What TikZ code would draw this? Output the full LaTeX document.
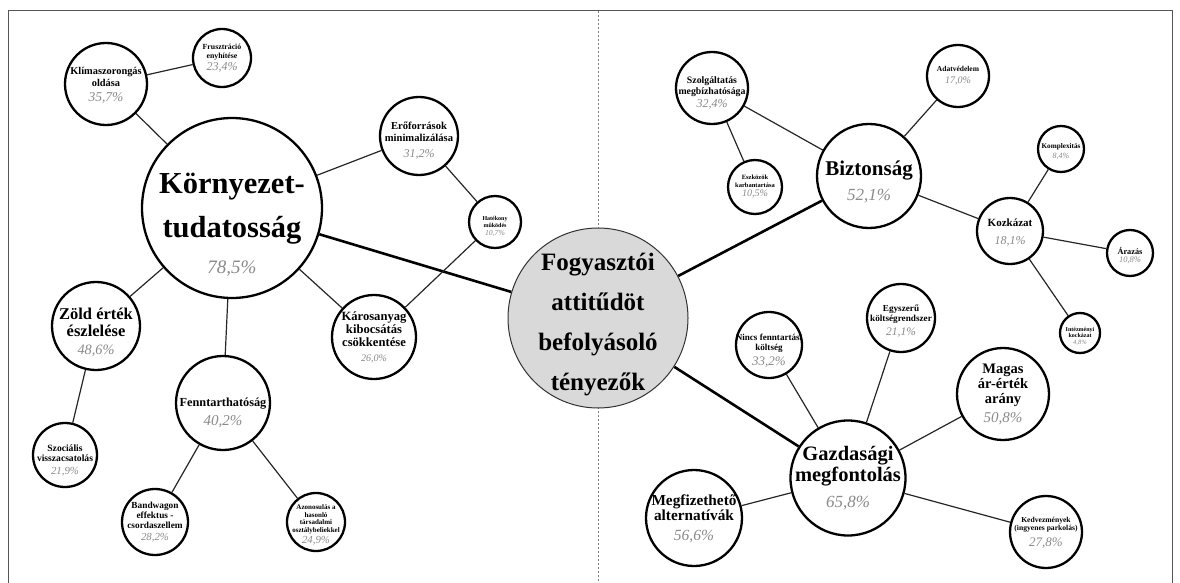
\documentclass[tikz,border=0pt]{standalone}
\usepackage{fontspec}
\setmainfont{Liberation Serif}
\usetikzlibrary{backgrounds}
\definecolor{pctgray}{HTML}{8A8A8A}
\definecolor{cenfill}{HTML}{D9D9D9}
\definecolor{framegray}{HTML}{555555}
\newcommand{\fs}[2]{\fontsize{#1}{#2}\selectfont}
\newcommand{\pc}[2]{{\fontsize{#1}{#1}\selectfont\mdseries\itshape\color{pctgray}#2}}
\tikzset{
  bub/.style={circle, draw=black, line width=2.3pt, fill=white, inner sep=0pt},
  cenbub/.style={circle, draw=black!80, line width=1pt, fill=cenfill, inner sep=0pt},
  txt/.style={inner sep=0pt, align=center},
  thinlink/.style={line width=1.2pt, draw=black!85},
  thicklink/.style={line width=2.6pt, draw=black},
}
% name, x, y, diameter, text dy, font size, leading, text
\newcommand{\bub}[8]{%
  \node[bub, minimum size=#4] (#1) at (#2,#3) {};
  \node[txt, font=\bfseries\fs{#6}{#7}] (#1t) at (#2,#3+#5) {#8};}
\begin{document}
\begin{tikzpicture}[x=1pt,y=-1pt]
\useasboundingbox (0,0) rectangle (1180,583);
\draw[framegray, line width=1pt] (8,583) -- (8,11) -- (1172,11) -- (1172,583);
\draw[gray, line width=0.8pt, dash pattern=on 2pt off 2pt] (598,11) -- (598,583);

% central
\node[cenbub, minimum size=180] (cen) at (598,318) {};
\node[txt, font=\bfseries\fs{25}{40}] (cent) at (598,325) {Fogyasztói\\attitűdöt\\befolyásoló\\tényezők};

% left cluster
\bub{env}{232}{208}{180}{17}{30.5}{44}{Környezet-\\tudatosság\\[-8pt]\pc{19}{78,5\%}}
\bub{klima}{106}{84}{82}{1}{10.4}{12}{Klímaszorongás\\oldása\\[3pt]\pc{13.5}{35,7\%}}
\bub{frus}{222}{58}{58}{0}{7.8}{9}{Frusztráció\\enyhítése\\[1pt]\pc{12}{23,4\%}}
\bub{ero}{419}{136}{78}{5}{10.6}{12}{Erőforrások\\minimalizálása\\[4pt]\pc{12}{31,2\%}}
\bub{hat}{495}{222}{52}{5}{6}{7}{Hatékony\\működés\\[1pt]\pc{7.7}{10,7\%}}
\bub{zold}{96}{326}{88}{6}{16.5}{17}{Zöld érték\\észlelése\\[1pt]\pc{14.3}{48,6\%}}
\bub{fenn}{223}{403}{94}{10}{12.3}{13}{Fenntarthatóság\\[6pt]\pc{15}{40,2\%}}
\bub{karos}{374}{337}{84}{0}{12.6}{13}{Károsanyag\\kibocsátás\\csökkentése\\[2pt]\pc{10}{26,0\%}}
\bub{szoc}{65}{455}{64}{5}{9.6}{10}{Szociális\\visszacsatolás\\[3pt]\pc{10.8}{21,9\%}}
\bub{band}{155}{522}{66}{0}{9.3}{10}{Bandwagon\\effektus -\\csordaszellem\\[2pt]\pc{10.8}{28,2\%}}
\bub{azon}{316}{522}{58}{3}{7}{7.5}{Azonosulás a\\hasonló\\társadalmi\\osztálybeliekkel\\[2pt]\pc{10.8}{24,9\%}}

% right cluster
\bub{bizt}{869}{176}{104}{6}{21}{22}{Biztonság\\[3pt]\pc{17}{52,1\%}}
\bub{szolg}{712}{88}{72}{5}{9.8}{11}{Szolgáltatás\\megbízhatósága\\[2pt]\pc{12}{32,4\%}}
\bub{eszk}{755}{187}{54}{0}{6.5}{7.5}{Eszközök\\karbantartása\\[2pt]\pc{10}{10,5\%}}
\bub{adat}{958}{76}{62}{0}{7.5}{8}{Adatvédelem\\[4pt]\pc{10}{17,0\%}}
\bub{kozk}{1010}{231}{66}{2}{11}{12}{Kozkázat\\[6pt]\pc{12}{18,1\%}}
\bub{komp}{1061}{149}{46}{3}{7.2}{8}{Komplexitás\\[2pt]\pc{8}{8,4\%}}
\bub{araz}{1130}{253}{46}{3}{8.3}{9}{Árazás\\[-1pt]\pc{8.5}{10,8\%}}
\bub{inte}{1080}{333}{40}{3}{6}{6.5}{Intézményi\\kockázat\\[0pt]\pc{6.5}{4,8\%}}
\bub{magas}{1003}{394}{92}{0}{14.5}{15}{Magas\\ár-érték\\arány\\[4pt]\pc{15}{50,8\%}}
\bub{gazd}{848}{478}{115}{0}{20.5}{21}{Gazdasági\\megfontolás\\[5pt]\pc{17}{65,8\%}}
\bub{megf}{694}{518}{96}{1}{15.3}{15}{Megfizethető\\alternatívák\\[5pt]\pc{15.5}{56,6\%}}
\bub{nincs}{769}{345}{66}{6}{9.1}{10}{Nincs fenntartási\\költség\\[3pt]\pc{13}{33,2\%}}
\bub{egysz}{901}{318}{68}{3}{9.2}{10.5}{Egyszerű\\költségrendszer\\[3pt]\pc{11.5}{21,1\%}}
\bub{kedv}{1046}{532}{72}{1}{7.6}{7.5}{Kedvezmények\\(ingyenes parkolás)\\[5pt]\pc{13}{27,8\%}}

\begin{scope}[on background layer]
\draw[thicklink] (cen) -- (env);
\draw[thicklink] (cen) -- (bizt);
\draw[thicklink] (cen) -- (gazd);
\draw[thinlink] (env) -- (klima);
\draw[thinlink] (klima) -- (frus);
\draw[thinlink] (env) -- (ero);
\draw[thinlink] (ero) -- (hat);
\draw[thinlink] (hat) -- (karos);
\draw[thinlink] (env) -- (karos);
\draw[thinlink] (env) -- (zold);
\draw[thinlink] (zold) -- (szoc);
\draw[thinlink] (env) -- (fenn);
\draw[thinlink] (fenn) -- (band);
\draw[thinlink] (fenn) -- (azon);
\draw[thinlink] (bizt) -- (szolg);
\draw[thinlink] (szolg) -- (eszk);
\draw[thinlink] (bizt) -- (adat);
\draw[thinlink] (bizt) -- (kozk);
\draw[thinlink] (kozk) -- (komp);
\draw[thinlink] (kozk) -- (araz);
\draw[thinlink] (kozk) -- (inte);
\draw[thinlink] (gazd) -- (nincs);
\draw[thinlink] (gazd) -- (egysz);
\draw[thinlink] (gazd) -- (magas);
\draw[thinlink] (gazd) -- (megf);
\draw[thinlink] (gazd) -- (kedv);
\end{scope}
\end{tikzpicture}
\end{document}
